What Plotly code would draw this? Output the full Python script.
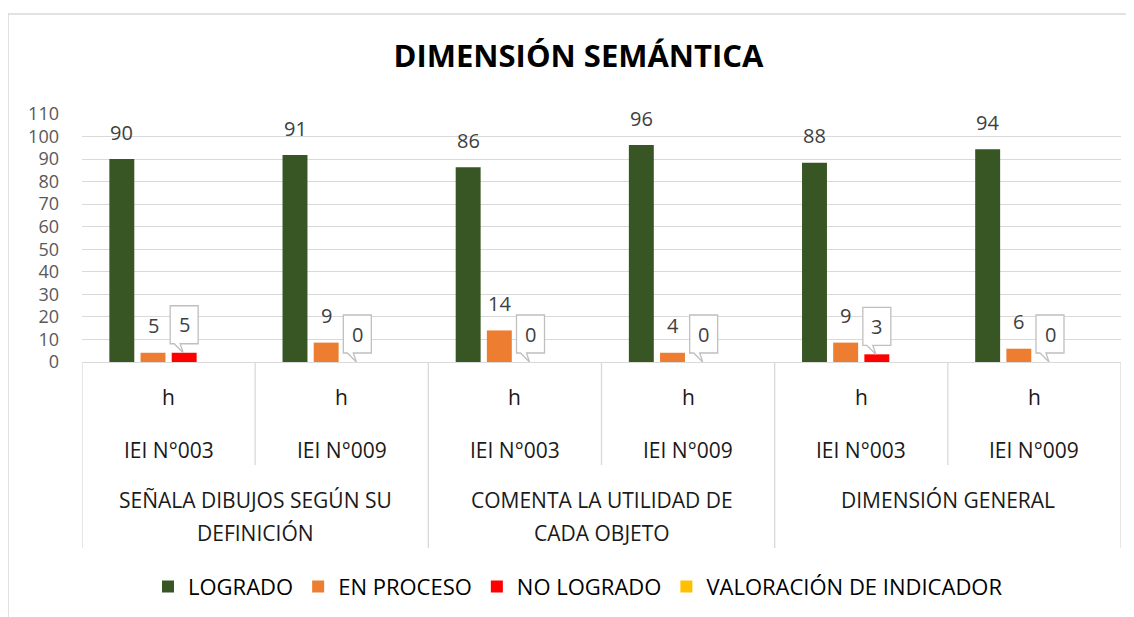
import plotly.graph_objects as go

# ---------------- data ----------------
group_lines = [
    ["SEÑALA DIBUJOS SEGÚN SU", "DEFINICIÓN"],
    ["COMENTA LA UTILIDAD DE", "CADA OBJETO"],
    ["DIMENSIÓN GENERAL"],
]
schools = ["IEI N°003", "IEI N°009"]
sub_label = "h"
categories = [f"{' '.join(g)} | {s}" for g in group_lines for s in schools]

series_names = ["LOGRADO", "EN PROCESO", "NO LOGRADO", "VALORACIÓN DE INDICADOR"]
series_colors = ["#375623", "#ED7D31", "#FF0000", "#FFC000"]

logrado = [90.0, 91.8, 86.4, 96.2, 88.4, 94.4]
en_proceso = [4.1, 8.6, 14.0, 4.1, 8.6, 5.9]
no_logrado = [4.1, 0, 0, 0, 3.4, 0]
valoracion = [None, None, None, None, None, None]

logrado_labels = [90, 91, 86, 96, 88, 94]
en_proceso_labels = [5, 9, 14, 4, 9, 6]
no_logrado_labels = [5, 0, 0, 0, 3, 0]

y_ticks = list(range(0, 111, 10))

# ---------------- styling ----------------
FONT = "Open Sans"
GRID = "#d9d9d9"
BARGAP = 0.28
GROUPGAP = 0.2
PAGE_OFF = 8  # default body margin of the html page
W, H = 1134 - PAGE_OFF, 617 - PAGE_OFF
n_series = len(series_names)
slot = (1 - BARGAP) / n_series
offsets = [(k - (n_series - 1) / 2) * slot for k in range(n_series)]

fig = go.Figure()
all_values = [logrado, en_proceso, no_logrado, valoracion]
for name, vals, col in zip(series_names, all_values, series_colors):
    fig.add_trace(go.Bar(x=categories, y=vals, name=name, marker_color=col,
                         marker_line_width=0, hoverinfo="skip"))

annotations = []
shapes = []

# plain data labels (LOGRADO, EN PROCESO)
for k, labels, vals in [(0, logrado_labels, logrado), (1, en_proceso_labels, en_proceso)]:
    for i, (lab, v) in enumerate(zip(labels, vals)):
        annotations.append(dict(x=i + offsets[k], y=v, xref="x", yref="y",
                                text=str(lab), showarrow=False, yanchor="middle",
                                yshift=27, font=dict(family=FONT, size=20, color="#404040")))

# callout labels (NO LOGRADO)
callout_path = "M -14,9 L -14,47 L 14,47 L 14,9 L -4,9 L -1,0 L -10,9 Z"
for i, (lab, v) in enumerate(zip(no_logrado_labels, no_logrado)):
    shapes.append(dict(type="path", xref="x", yref="y", xsizemode="pixel", ysizemode="pixel",
                       xanchor=i + offsets[2], yanchor=v, path=callout_path,
                       fillcolor="white", line=dict(color="#bfbfbf", width=1.3), layer="above"))
    annotations.append(dict(x=i + offsets[2], y=v, xref="x", yref="y",
                            text=str(lab), showarrow=False, yanchor="middle",
                            yshift=28, font=dict(family=FONT, size=20, color="#404040")))

# category table below the axis
Y_H = -0.141
Y_SCHOOL = -0.353
Y_SHORT = -0.4153
Y_G1 = -0.556
Y_G2 = -0.690
Y_LONG = -0.75
n_cat = len(categories)
for j in range(n_cat + 1):
    long_line = (j % len(schools) == 0)
    shapes.append(dict(type="line", xref="x", yref="paper", x0=j - 0.5, x1=j - 0.5,
                       y0=0, y1=Y_LONG if long_line else Y_SHORT,
                       line=dict(color=GRID, width=1.3), layer="above"))
txtfont = dict(family=FONT, size=21, color="#1a1a1a")
for i in range(n_cat):
    annotations.append(dict(x=i, y=Y_H, xref="x", yref="paper", text=sub_label,
                            showarrow=False, yanchor="middle", font=txtfont))
    annotations.append(dict(x=i, y=Y_SCHOOL, xref="x", yref="paper",
                            text=schools[i % len(schools)],
                            showarrow=False, yanchor="middle", font=txtfont))
for g, lines in enumerate(group_lines):
    xc = g * len(schools) + (len(schools) - 1) / 2
    for li, line in enumerate(lines):
        annotations.append(dict(x=xc, y=[Y_G1, Y_G2][li], xref="x", yref="paper", text=line,
                                showarrow=False, yanchor="middle", font=txtfont))

# outer chart border (top & left visible)
shapes.append(dict(type="rect", xref="paper", yref="paper", x0=-0.0712, x1=1.2,
                   y0=-1.3, y1=1.403, line=dict(color=GRID, width=1.5), layer="below"))

fig.update_layout(
    width=W, height=H,
    margin=dict(l=82 - PAGE_OFF, r=13, t=114 - PAGE_OFF, b=255, autoexpand=False),
    paper_bgcolor="white", plot_bgcolor="white",
    barmode="group", bargap=BARGAP, bargroupgap=GROUPGAP,
    title=dict(text="<b>DIMENSIÓN SEMÁNTICA</b>", x=(578.5 - PAGE_OFF) / W, xanchor="center",
               xref="container", y=1 - (55.7 - PAGE_OFF) / H, yanchor="middle", yref="container",
               font=dict(family=FONT, size=31, color="#000000")),
    xaxis=dict(showticklabels=False, showgrid=False, showline=True, linecolor=GRID,
               linewidth=1.3, ticks="", zeroline=False, range=[-0.5, n_cat - 0.5]),
    yaxis=dict(range=[0, 110], tickvals=y_ticks, showgrid=True, gridcolor=GRID, gridwidth=1.3,
               zeroline=False, showline=False, ticks="", ticklabelstandoff=22,
               tickfont=dict(family=FONT, size=18, color="#595959")),
    legend=dict(orientation="h", x=(578 - 82) / 1039, xanchor="center", y=-0.906,
                yanchor="middle", font=dict(family=FONT, size=22, color="#000000"),
                bgcolor="rgba(0,0,0,0)", traceorder="normal"),
    annotations=annotations,
    shapes=shapes,
    showlegend=True,
)

fig.write_html("out.html")
